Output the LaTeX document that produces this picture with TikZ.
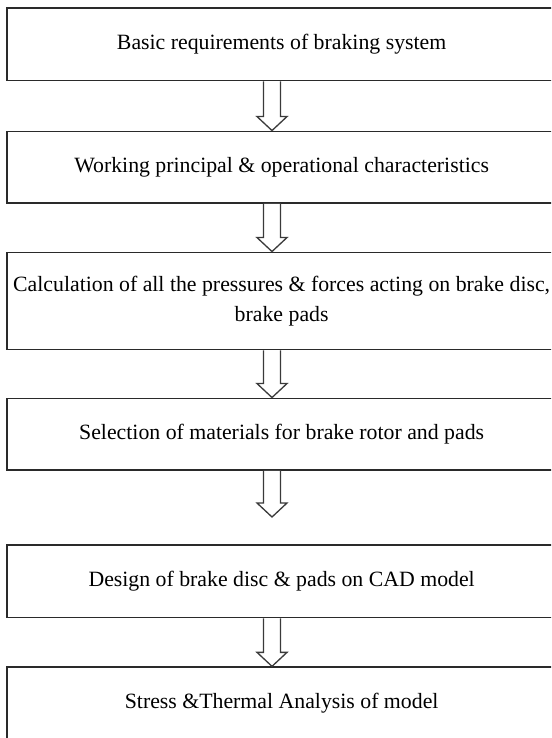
\documentclass[tikz,border=0pt]{standalone}
\usepackage{fontspec}
\setmainfont{Liberation Serif}
\usetikzlibrary{calc}
\definecolor{boxline}{HTML}{2A2A2A}
\definecolor{arrline}{HTML}{3A3A3A}
\tikzset{
  stepbox/.style={draw=boxline, line width=1.9pt, fill=white, inner sep=0pt,
    minimum width=548.7pt, align=center,
    font=\fontsize{21.8}{30}\selectfont, text=black},
  barrow/.style={draw=arrline, line width=1.3pt, fill=white, line join=miter}
}
\newcommand{\blockarr}[2]{%
  \draw[barrow] ($(#1)+(-8.5,0)$) -- ($(#2)+(-8.5,-14)$) -- ($(#2)+(-15,-14)$)
     -- (#2) -- ($(#2)+(15,-14)$) -- ($(#2)+(8.5,-14)$) -- ($(#1)+(8.5,0)$);}
\begin{document}
\begin{tikzpicture}[x=1pt,y=-1pt]
\useasboundingbox (0,0) rectangle (551,738);
\clip (0,0) rectangle (551,738);
\fill[white] (0,0) rectangle (551,738);
\coordinate (ax) at (272,0);
\node[stepbox, minimum height=72.2pt] (b1) at (281.65,44.4) {Basic requirements of braking system};
\node[stepbox, minimum height=71.5pt] (b2) at (281.65,167.25) {Working principal \& operational characteristics};
\node[stepbox, minimum height=97pt] (b3) at (281.65,301) {Calculation of all the pressures \& forces acting on brake disc,\\ brake pads};
\node[stepbox, minimum height=71.5pt] (b4) at (281.65,434.25) {Selection of materials for brake rotor and pads};
\node[stepbox, minimum height=72.5pt] (b5) at (281.65,581.25) {Design of brake disc \& pads on CAD model};
\node[stepbox, minimum height=72pt] (b6) at (281.65,703.3) {Stress \&Thermal Analysis of model};
\coordinate (s1) at (b1.south -| ax); \coordinate (e1) at (b2.north -| ax);
\coordinate (s2) at (b2.south -| ax); \coordinate (e2) at (b3.north -| ax);
\coordinate (s3) at (b3.south -| ax); \coordinate (e3) at (b4.north -| ax);
\coordinate (s4) at (b4.south -| ax); \coordinate (e4) at (272,517);
\coordinate (s5) at (b5.south -| ax); \coordinate (e5) at (b6.north -| ax);
\blockarr{s1}{e1}
\blockarr{s2}{e2}
\blockarr{s3}{e3}
\blockarr{s4}{e4}
\blockarr{s5}{e5}
\end{tikzpicture}
\end{document}
